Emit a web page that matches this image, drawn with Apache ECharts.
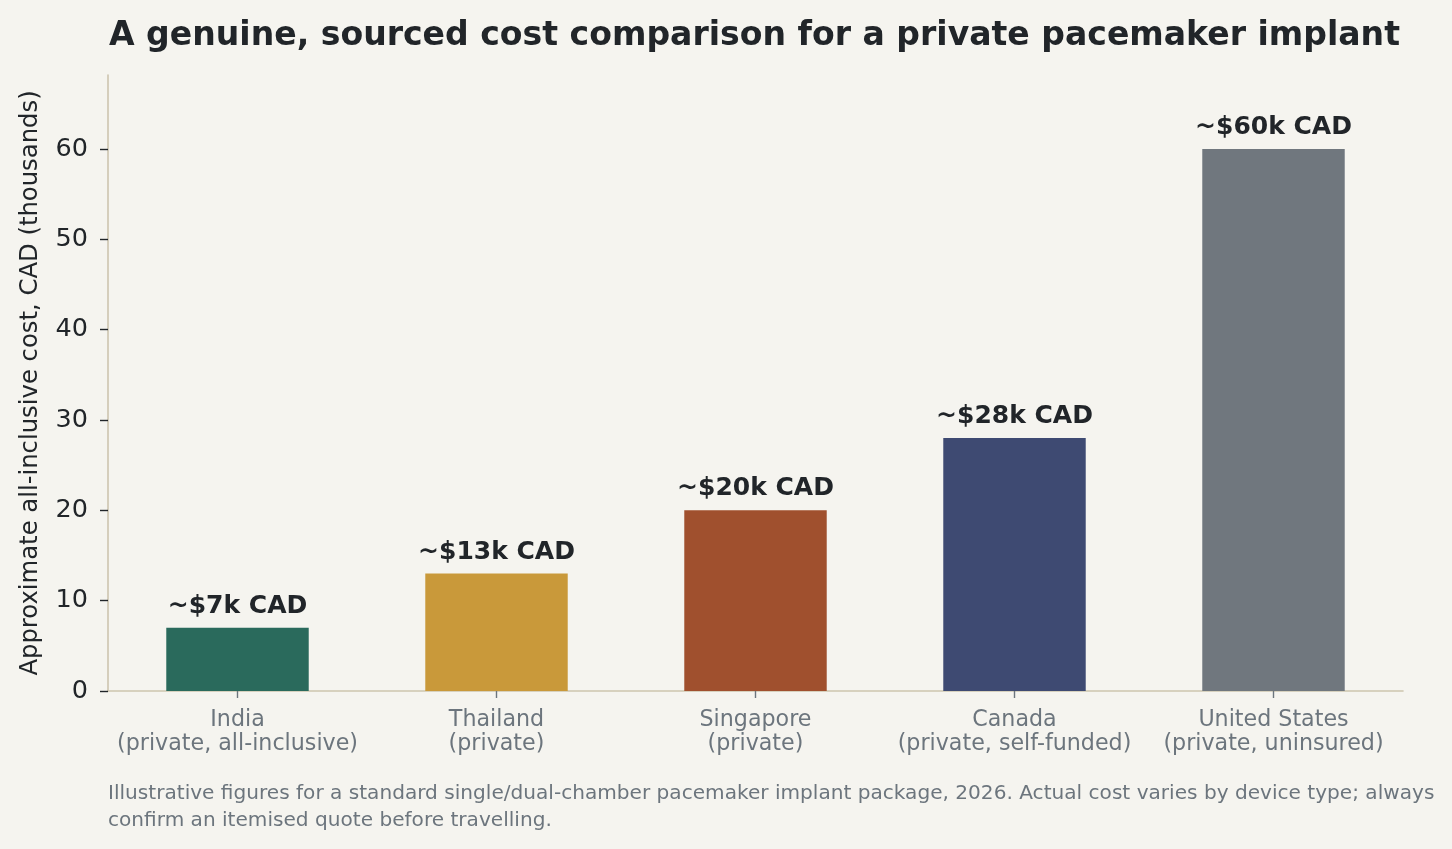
<!DOCTYPE html>
<html><head><meta charset="utf-8">
<script src="https://cdn.jsdelivr.net/npm/echarts@6/dist/echarts.min.js"></script>
<style>html,body{margin:0;padding:0;background:#f5f4ef;}#c{width:1452px;height:849px;}</style>
</head><body><div id="c"></div>
<script>
const categories = ["India\n(private, all-inclusive)", "Thailand\n(private)", "Singapore\n(private)", "Canada\n(private, self-funded)", "United States\n(private, uninsured)"];
const values = [7, 13, 20, 28, 60];
const valueLabels = ["~$7k CAD", "~$13k CAD", "~$20k CAD", "~$28k CAD", "~$60k CAD"];
const barColors = ["#2a6a5c", "#c9993a", "#a0502e", "#3e4a72", "#70777e"];
const yTicks = [0, 10, 20, 30, 40, 50, 60];
const titleText = "A genuine, sourced cost comparison for a private pacemaker implant";
const yAxisName = "Approximate all-inclusive cost, CAD (thousands)";
const footerLines = ["Illustrative figures for a standard single/dual-chamber pacemaker implant package, 2026. Actual cost varies by device type; always", "confirm an itemised quote before travelling."];

const FONT = "'DejaVu Sans', sans-serif";
const chart = echarts.init(document.getElementById('c'), null, {renderer: 'canvas'});
chart.setOption({
  backgroundColor: '#f5f4ef',
  animation: false,
  textStyle: {fontFamily: FONT},
  title: {
    text: titleText, left: 104, top: 15,
    textStyle: {fontFamily: FONT, fontSize: 33.1, fontWeight: 'bold', color: '#212529'}
  },
  grid: {left: 108, right: 49, top: 75, bottom: 158, containLabel: false},
  xAxis: {
    type: 'category', data: categories,
    axisLine: {lineStyle: {color: '#cdc5af', width: 1.6}},
    axisTick: {show: true, alignWithLabel: true, length: 7, lineStyle: {color: '#6c757d', width: 1.4}},
    axisLabel: {color: '#6c757d', fontSize: 22.2, lineHeight: 24, margin: 17, fontFamily: FONT, interval: 0}
  },
  yAxis: {
    type: 'value', min: 0, max: 68.2, interval: 10,
    name: yAxisName, nameLocation: 'middle', nameGap: 65, nameRotate: 90,
    nameTextStyle: {fontSize: 24.3, color: '#212529', fontFamily: FONT},
    axisLine: {show: true, lineStyle: {color: '#cdc5af', width: 1.6}},
    axisTick: {show: true, length: 8, lineStyle: {color: '#212529', width: 1.4}},
    splitLine: {show: false},
    axisLabel: {
      color: '#212529', fontSize: 25.5, margin: 20, fontFamily: FONT, showMaxLabel: false,
      formatter: v => yTicks.includes(v) ? String(v) : ''
    }
  },
  series: [{
    type: 'bar', barWidth: '55%',
    data: values.map((v, i) => ({value: v, itemStyle: {color: barColors[i]}})),
    label: {
      show: true, position: 'top', distance: 9,
      formatter: p => valueLabels[p.dataIndex],
      fontFamily: FONT, fontSize: 25, fontWeight: 'bold', color: '#212529'
    }
  }],
  graphic: footerLines.map((t, i) => ({
    type: 'text', left: 108, top: 780 + i * 27,
    style: {text: t, fontFamily: FONT, fontSize: 20.1, lineHeight: 27, fill: '#6c757d'}
  }))
});
</script></body></html>
